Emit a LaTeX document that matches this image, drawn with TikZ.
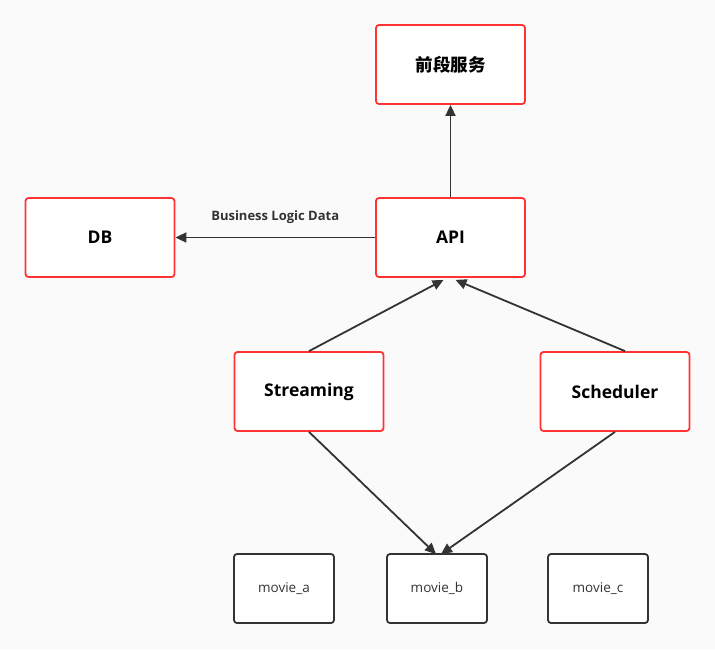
\documentclass[tikz,border=0pt]{standalone}
\usepackage{fontspec}
\setmainfont{Open Sans}
\newfontfamily\cjk{Noto Sans CJK SC}
\usetikzlibrary{arrows.meta}
\definecolor{bg}{HTML}{FAFAFA}
\definecolor{redb}{HTML}{FF3333}
\definecolor{ink}{HTML}{333333}
\begin{document}
\begin{tikzpicture}[x=1pt,y=-1pt,
  redbox/.style={draw=redb,fill=white,line width=1.8pt,rounded corners=3pt,minimum width=149pt,minimum height=79pt,font=\fontsize{17.5}{19}\selectfont\bfseries,text=black},
  moviebox/.style={draw=ink,fill=white,line width=1.8pt,rounded corners=3pt,minimum width=100pt,minimum height=69pt,font=\fontsize{13.5}{15}\selectfont,text=ink},
  conn/.style={draw=ink,line width=1.8pt,-{Triangle[length=11pt,width=10pt]}}]
\fill[bg] (0,0) rectangle (715,649);
\useasboundingbox (0,0) rectangle (715,649);
\node[redbox,font=\cjk\fontsize{17.5}{19}\selectfont\bfseries] (front) at (450.5,64.5) {前段服务};
\node[redbox] (db) at (100,237.5) {DB};
\node[redbox] (api) at (450.5,237.5) {API};
\node[redbox] (stream) at (309,391.5) {Streaming};
\node[redbox] (sched) at (615,391.5) {Scheduler};
\node[moviebox] (ma) at (284,588.5) {movie\_a};
\node[moviebox] (mb) at (437,588.5) {movie\_b};
\node[moviebox] (mc) at (598,588.5) {movie\_c};
\draw[conn] (api.north) -- (front.south);
\draw[conn] (api.west) -- node[above=10pt,font=\fontsize{13}{15}\selectfont\bfseries,text=ink] {Business Logic Data} (db.east);
\draw[conn] (stream.north) -- ([xshift=-7pt,yshift=-2pt]api.south);
\draw[conn] ([xshift=10pt]sched.north) -- ([xshift=5pt,yshift=-2pt]api.south);
\draw[conn] (stream.south) -- ([xshift=-1pt,yshift=-1pt]mb.north);
\draw[conn] (sched.south) -- ([xshift=4pt,yshift=-1pt]mb.north);
\end{tikzpicture}
\end{document}
